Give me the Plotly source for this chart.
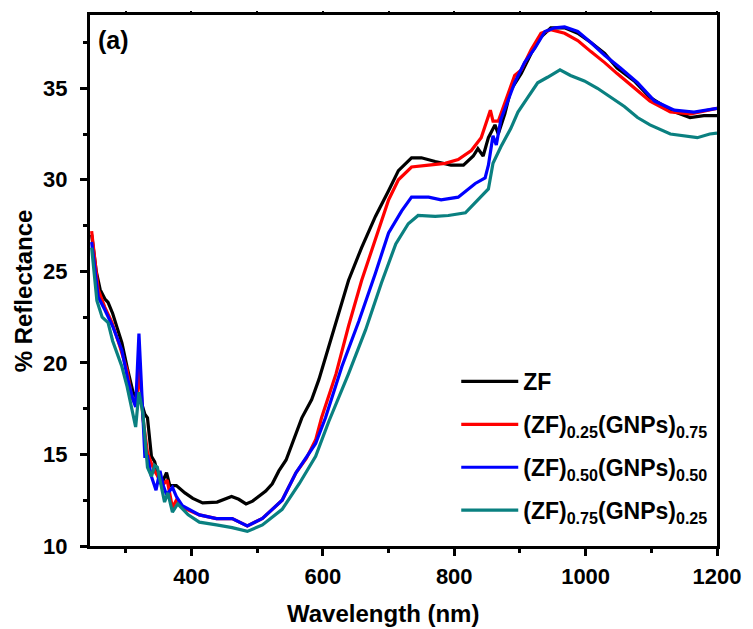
import plotly.graph_objects as go

# ---- data ----
zf_wl = [248, 255, 261, 268, 273, 280, 287, 294, 303, 311, 318, 324, 329, 333, 339, 344, 352, 357,
         362, 367, 377, 390, 402, 417, 439, 461, 472, 483, 493, 503, 513, 523, 533, 544, 552, 559,
         568, 583, 594, 609, 624, 639, 659, 680, 700, 715, 735, 750, 771, 786, 795, 814, 829, 836,
         844, 852, 862, 867, 877, 886, 902, 917, 932, 947, 968, 988, 1008, 1029, 1048, 1074, 1098,
         1129, 1159, 1180, 1200]
zf_r = [27.0, 25.0, 24.0, 23.5, 23.3, 22.7, 21.9, 21.1, 19.6, 18.4, 18.0, 17.8, 17.2, 17.0, 14.9,
        14.6, 13.4, 13.6, 14.0, 13.3, 13.3, 12.9, 12.6, 12.35, 12.4, 12.7, 12.55, 12.3, 12.45, 12.7,
        13.0, 13.4, 14.1, 14.7, 15.5, 16.2, 17.0, 18.0, 19.1, 20.9, 22.7, 24.5, 26.3, 28.0, 29.4,
        30.5, 31.2, 31.2, 31.0, 30.9, 30.8, 30.8, 31.3, 31.7, 31.3, 32.3, 33.0, 32.5, 33.6, 34.9,
        35.8, 36.9, 37.8, 38.3, 38.3, 38.0, 37.5, 36.9, 36.1, 35.4, 34.5, 33.8, 33.4, 33.5, 33.5]

s25_wl = [248, 258, 268, 279, 291, 302, 309, 314, 318, 321, 326, 333, 338, 344, 352, 358, 363, 371,
          377, 386, 412, 438, 462, 485, 508, 538, 559, 575, 589, 598, 620, 639, 659, 680, 700, 715,
          735, 761, 786, 806, 826, 841, 855, 859, 867, 882, 892, 902, 917, 932, 947, 968, 988, 1008,
          1029, 1048, 1074, 1098, 1129, 1160, 1200]
s25_r = [27.2, 24.0, 23.05, 22.2, 20.9, 19.6, 18.1, 17.8, 18.5, 19.8, 17.0, 15.1, 14.6, 14.1, 13.6,
         13.4, 13.6, 12.1, 12.5, 12.1, 11.7, 11.5, 11.5, 11.1, 11.5, 12.5, 14.0, 14.8, 15.8, 17.0,
         19.4, 22.0, 24.5, 26.7, 28.9, 30.0, 30.7, 30.8, 30.9, 31.1, 31.6, 32.3, 33.8, 33.2, 33.2,
         34.7, 35.7, 36.0, 37.1, 38.0, 38.2, 38.0, 37.6, 37.0, 36.4, 35.8, 35.0, 34.3, 33.7, 33.6, 33.9]

s50_wl = [248, 258, 268, 280, 294, 303, 311, 315, 320, 324, 329, 333, 339, 346, 352, 357, 362, 371,
          377, 386, 412, 438, 462, 485, 508, 538, 559, 589, 604, 629, 655, 680, 700, 720, 735, 761,
          780, 806, 832, 847, 852, 859, 864, 871, 882, 892, 907, 923, 938, 953, 968, 988, 1008, 1029,
          1053, 1079, 1105, 1135, 1165, 1200]
s50_r = [26.6, 23.6, 22.9, 22.0, 20.7, 19.1, 18.0, 17.6, 21.6, 18.5, 14.9, 14.9, 13.8, 13.05, 14.1,
         13.3, 12.8, 13.2, 12.7, 12.2, 11.7, 11.5, 11.5, 11.1, 11.5, 12.5, 14.0, 15.6, 17.0, 19.8,
         22.3, 24.9, 27.1, 28.3, 29.05, 29.05, 28.9, 29.05, 29.8, 30.1, 30.8, 32.4, 31.9, 33.3, 34.3,
         35.3, 36.4, 37.2, 38.1, 38.3, 38.35, 38.1, 37.5, 36.8, 36.1, 35.3, 34.3, 33.8, 33.7, 33.9]

s75_wl = [248, 256, 264, 273, 280, 294, 302, 309, 315, 320, 326, 333, 339, 344, 348, 359, 364, 371,
          379, 395, 412, 438, 462, 485, 508, 538, 564, 589, 609, 639, 665, 689, 711, 730, 745, 771,
          791, 817, 836, 852, 859, 871, 886, 897, 912, 927, 942, 961, 977, 998, 1018, 1038, 1059,
          1079, 1098, 1129, 1150, 1170, 1189, 1200]
s75_r = [26.3, 23.4, 22.5, 22.2, 21.2, 19.8, 18.7, 17.6, 16.5, 18.4, 17.25, 14.3, 13.8, 14.4, 14.3,
         12.4, 12.9, 11.85, 12.3, 11.7, 11.3, 11.15, 11.0, 10.8, 11.15, 12.0, 13.4, 14.9, 16.8, 19.4,
         21.8, 24.35, 26.5, 27.6, 28.05, 28.0, 28.05, 28.2, 28.9, 29.5, 30.9, 31.8, 32.8, 33.7, 34.5,
         35.3, 35.6, 36.0, 35.7, 35.4, 35.0, 34.5, 34.0, 33.4, 33.0, 32.5, 32.4, 32.3, 32.5, 32.55]

names = ["ZF<sub>\u00a0</sub>",
         "(ZF)<sub>0.25</sub>(GNPs)<sub>0.75</sub>",
         "(ZF)<sub>0.50</sub>(GNPs)<sub>0.50</sub>",
         "(ZF)<sub>0.75</sub>(GNPs)<sub>0.25</sub>"]
colors = ["#000000", "#FF0000", "#0000FF", "#0A8080"]
series = [(zf_wl, zf_r), (s25_wl, s25_r), (s50_wl, s50_r), (s75_wl, s75_r)]

x_ticks = [400, 600, 800, 1000, 1200]
y_ticks = [10, 15, 20, 25, 30, 35]
x_range = [245.5, 1200]
y_range = [10, 39]

FONT = "Liberation Sans, Arial, sans-serif"
L, R, T, B = 90, 33, 15, 83
PW, PH = 753 - L - R, 629 - T - B


def px_x(p):
    return (p - L) / PW


def px_y(p):
    return (629 - B - p) / PH


fig = go.Figure()
for i, ((wl, r), nm, c) in enumerate(zip(series, names, colors)):
    fig.add_trace(go.Scatter(x=wl, y=r, mode="lines", name=nm, legendgroup=f"g{i}",
                             line=dict(color=c, width=3.2)))

axis_common = dict(
    showline=True, linewidth=3, linecolor="black", mirror=True,
    ticks="outside", ticklen=7, tickwidth=3, tickcolor="black",
    showgrid=False, zeroline=False,
    tickfont=dict(family=FONT, size=22, color="black", weight="bold"),
)

fig.update_layout(
    width=753, height=629,
    margin=dict(l=L, r=R, t=T, b=B),
    paper_bgcolor="white", plot_bgcolor="white",
    xaxis=dict(range=x_range, tickvals=x_ticks,
               minor=dict(ticks="outside", ticklen=4, tickwidth=3, tickcolor="black", dtick=100, tick0=300),
               ticklabelstandoff=2, **axis_common),
    xaxis2=dict(range=x_range, overlaying="x", side="top", showticklabels=False,
                ticks="outside", ticklen=3, tickwidth=2, tickcolor="black", tickvals=x_ticks,
                minor=dict(ticks="outside", ticklen=3, tickwidth=2, tickcolor="black", dtick=100, tick0=300),
                showgrid=False, zeroline=False, showline=False),
    yaxis=dict(range=y_range, tickvals=y_ticks,
               minor=dict(ticks="outside", ticklen=4, tickwidth=3, tickcolor="black", dtick=2.5, tick0=12.5),
               ticklabelstandoff=8, **axis_common),
    legend=dict(x=px_x(458), y=px_y(360), xanchor="left", yanchor="top",
                font=dict(family=FONT, size=23, color="black", weight="bold"),
                bgcolor="rgba(0,0,0,0)", itemwidth=57, tracegroupgap=10),
    showlegend=True,
)
# invisible trace to activate the top tick axis
fig.add_trace(go.Scatter(x=[x_range[0]], y=[y_range[0]], xaxis="x2", mode="markers",
                         marker=dict(opacity=0), showlegend=False, hoverinfo="skip"))

fig.add_annotation(text="Wavelength (nm)", x=px_x(384), y=px_y(613),
                   xref="paper", yref="paper", showarrow=False, xanchor="center", yanchor="middle",
                   font=dict(family=FONT, size=24, color="black", weight="bold"))
fig.add_annotation(text="% Reflectance", x=px_x(23), y=px_y(291), textangle=-90,
                   xref="paper", yref="paper", showarrow=False, xanchor="center", yanchor="middle",
                   font=dict(family=FONT, size=24, color="black", weight="bold"))
fig.add_annotation(text="(a)", x=px_x(114), y=px_y(40),
                   xref="paper", yref="paper", showarrow=False, xanchor="center", yanchor="middle",
                   font=dict(family=FONT, size=25, color="black", weight="bold"))

fig.write_html("out.html")
